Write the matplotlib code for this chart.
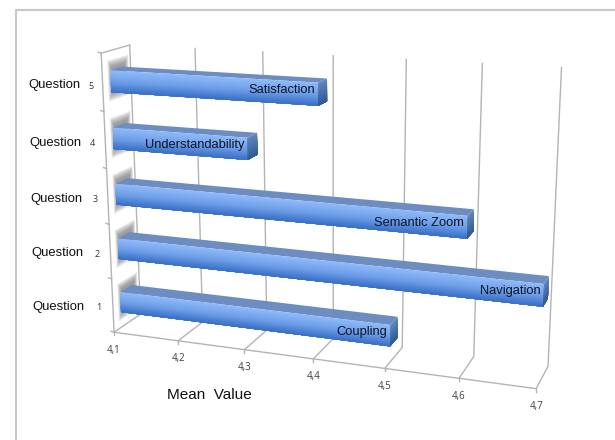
import numpy as np
import matplotlib
matplotlib.use('Agg')
import matplotlib.pyplot as plt
from matplotlib.colors import LinearSegmentedColormap

plt.rcParams['font.family'] = ['Liberation Sans', 'DejaVu Sans']

# chart data
questions = ['1', '2', '3', '4', '5']
names = ['Coupling', 'Navigation', 'Semantic Zoom', 'Understandability', 'Satisfaction']
means = [4.5, 4.7, 4.6, 4.3, 4.4]
ticks = [4.1, 4.2, 4.3, 4.4, 4.5, 4.6, 4.7]

# where the axes box sits on the picture: (value, height, depth) -> pixel
front_floor = [(114, 332), (178, 341), (245, 350), (313, 359), (385, 369), (459, 378), (536, 388)]
back_floor = [(140, 313), (203, 322), (267, 331), (333, 339), (402, 347), (474, 357), (548, 366)]
back_top = [(130, 45), (195, 48.5), (263, 52), (333, 56), (406, 60), (482, 63), (562, 67)]
front_top_left = (101, 53)

calib = []
for t, a, b, c in zip(ticks, front_floor, back_floor, back_top):
    calib += [(t, 0, 0, a), (t, 0, 1, b), (t, 5, 1, c)]
calib.append((4.1, 5, 0, front_top_left))

rows, rhs = [], []
for v, h, d, (px, py) in calib:
    u = v - 4.1
    rows.append([u, h, d, 1, 0, 0, 0, 0, -px * u, -px * h, -px * d])
    rows.append([0, 0, 0, 0, u, h, d, 1, -py * u, -py * h, -py * d])
    rhs += [px, py]
sol = np.linalg.lstsq(np.array(rows, float), np.array(rhs, float), rcond=None)[0]
P = np.append(sol, 1).reshape(3, 4)


def project(v, h, d):
    w = P @ np.array([v - 4.1, h, d, 1.0])
    return w[0] / w[2], w[1] / w[2]


def quad(corners):
    return zip(*[project(*c) for c in corners])


fig = plt.figure(figsize=(6.15, 4.4), dpi=100)
ax = fig.add_axes([0, 0, 1, 1])
ax.set_xlim(0, 615)
ax.set_ylim(440, 0)
ax.axis('off')

# frame of the pasted picture
ax.plot([15.5, 15.5, 615], [440, 10, 10], color='#c8c8c8', lw=1.5, zorder=1)

grid = '#b4b4b4'
for t in ticks:
    ax.plot(*quad([(t, 0, 0), (t, 0, 1), (t, 5, 1)]), color=grid, lw=1, zorder=2)
    x, y = project(t, 0, 0)
    ax.plot([x, x], [y, y + 3], color=grid, lw=1, zorder=2)
    ax.text(x, y + 18, str(t).replace('.', ','), fontsize=7, color='#404040',
            family=['Open Sans', 'DejaVu Sans'], ha='center', va='center')

ax.plot(*quad([(4.1, 5, 1), (4.1, 5, 0), (4.1, 0, 0), (4.7, 0, 0)]), color=grid, lw=1, zorder=2)
for k in range(6):
    x, y = project(4.1, k, 0)
    ax.plot([x - 3, x], [y - 1, y], color=grid, lw=1, zorder=2)

top_cmap = LinearSegmentedColormap.from_list('front', ['#8fb9fa', '#6f9fe8', '#3a70c6'])
end_cmap = LinearSegmentedColormap.from_list('end', ['#6288bd', '#2e5a96'])
h0, h1 = 0.285, 0.665
d0, d1 = 0.28, 0.7
steps = 24

for i, (q, name, val) in enumerate(zip(questions, names, means)):
    low, high = i + h0, i + h1

    # soft shadow on the side wall
    for g in np.linspace(0.13, 0.0, 9):
        dl = max(0.32 - g, 0.1)
        dh = min(0.8 + g, 0.96)
        ax.fill(*quad([(4.1, high + 0.05 + g, dl), (4.1, high + 0.05 + g, dh),
                       (4.1, low - 0.02 - g, dh), (4.1, low - 0.02 - g, dl)]),
                color='#666666', alpha=0.1, lw=0, zorder=3)

    ax.fill(*quad([(4.1, high, d0), (val, high, d0), (val, high, d1), (4.1, high, d1)]),
            color='#6d8cc0', lw=0, zorder=5)

    # gradient faces: each strip reaches the bar bottom so no seams show
    levels = np.linspace(high, low, steps + 1)
    for j in range(steps):
        ax.fill(*quad([(4.1, levels[j], d0), (val, levels[j], d0),
                       (val, low, d0), (4.1, low, d0)]),
                color=top_cmap(j / (steps - 1)), lw=0, zorder=6)
        ax.fill(*quad([(val, levels[j], d0), (val, levels[j], d1),
                       (val, low, d1), (val, low, d0)]),
                color=end_cmap(j / (steps - 1)), lw=0, zorder=6)

    x, y = project(val, (low + high) / 2, d0)
    ax.text(x - 3, y - 4, name, fontsize=9.3, color='#0b1626', ha='right', va='center', zorder=7)

    x, y = project(4.1, i + 0.5, 0)
    ax.text(x - 28 + 1.5 * i, y + 1 + 0.5 * i, 'Question', fontsize=9.4, color='#111111',
            ha='right', va='center')
    ax.text(x - 14 + 0.5 * i, y + 2 + 0.5 * i, q, fontsize=6.5, color='#333333',
            ha='center', va='center', family=['Open Sans', 'DejaVu Sans'])

ax.text(209, 395, 'Mean  Value', fontsize=11, color='#111111', ha='center', va='center')

fig.savefig('out.png', dpi=100)
